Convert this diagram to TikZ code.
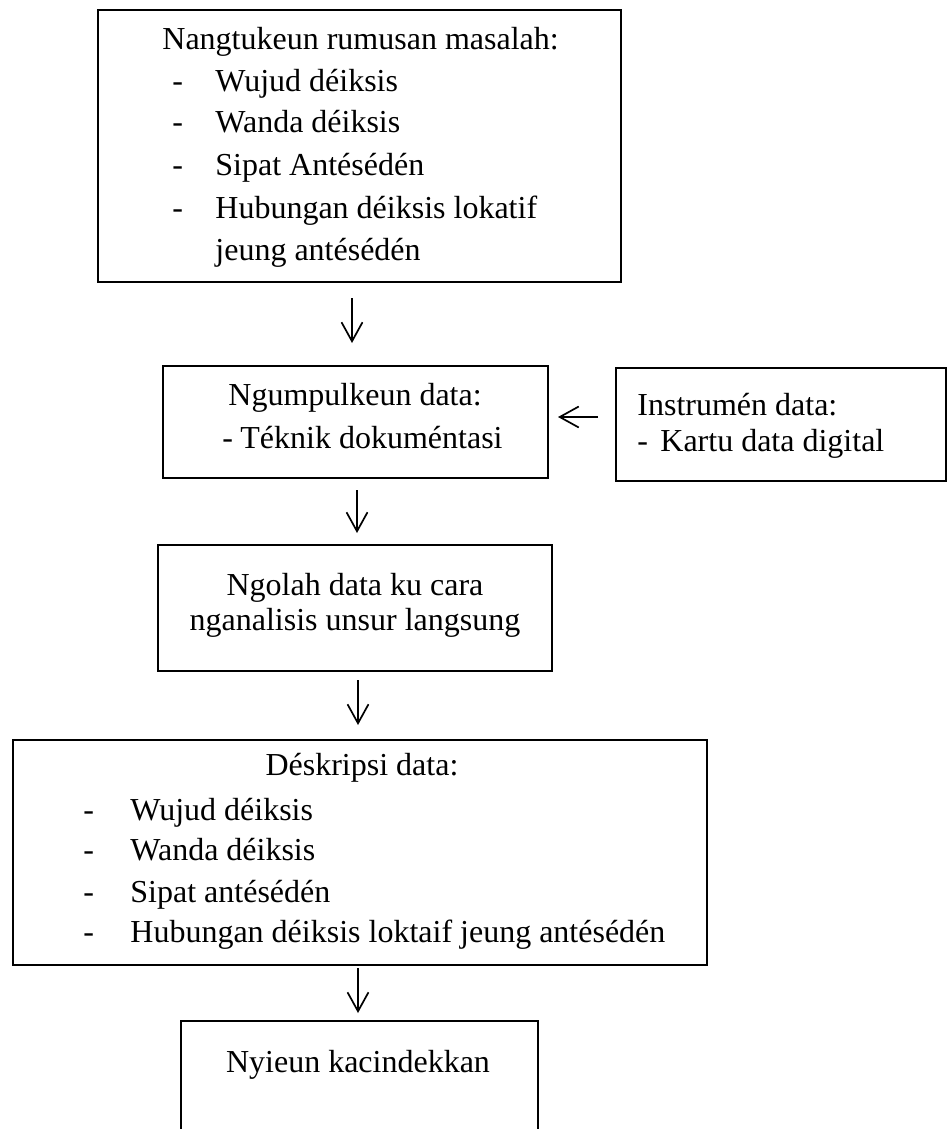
\documentclass[tikz,border=0pt]{standalone}
\usepackage{fontspec}
\setmainfont{Liberation Serif}
\usepackage{tikz}
\usetikzlibrary{arrows.meta,positioning,calc}

\begin{document}
\begin{tikzpicture}[x=0.5pt,y=-0.5pt,
    box/.style={draw, line width=0.7pt, inner sep=0pt, outer sep=0pt, anchor=north west},
    txt/.style={anchor=base west, inner sep=0pt, font=\fontsize{16}{20}\selectfont},
    ctr/.style={anchor=base, inner sep=0pt, font=\fontsize{16}{20}\selectfont},
    arr/.style={-{Straight Barb[length=9.5pt,width=10.5pt]}, line width=0.85pt}]
            \useasboundingbox (0,0) rectangle (949,1129);

            % rumusan masalah
            \node[box, minimum width=261.5pt, minimum height=136pt] (b1) at (98,10) {};
            \node[txt] (t1) at (162,50) {Nangtukeun rumusan masalah:};
            \node[txt] (d11) at (172,92) {-};
            \node[txt] (i11) at (215,92) {Wujud déiksis};
            \node[txt] (d12) at (172,133) {-};
            \node[txt] (i12) at (215,133) {Wanda déiksis};
            \node[txt] (d13) at (172,175) {-};
            \node[txt] (i13) at (215,175) {Sipat Antésédén};
            \node[txt] (d14) at (172,218) {-};
            \node[txt] (i14) at (215,218) {Hubungan déiksis lokatif};
            \node[txt] (i15) at (215,260) {jeung antésédén};

            % ngumpulkeun data
            \node[box, minimum width=192.5pt, minimum height=56pt] (b2) at (163,366) {};
            \node[txt] (t2) at (228,405) {Ngumpulkeun data:};
            \node[txt] (d21) at (222,448) {-};
            \node[txt] (i21) at (240,448) {Téknik dokuméntasi};

            % instrumen
            \node[box, minimum width=165pt, minimum height=56.5pt] (b3) at (616,368) {};
            \node[txt] (t3) at (637,415) {Instrumén data:};
            \node[txt] (d31) at (637,451) {-};
            \node[txt] (i31) at (660,451) {Kartu data digital};

            % ngolah data
            \node[box, minimum width=197pt, minimum height=63pt] (b4) at (158,545) {};
            \node[ctr] (t4) at (355,595) {Ngolah data ku cara};
            \node[ctr] (t4b) at (355,630) {nganalisis unsur langsung};

            % deskripsi data
            \node[box, minimum width=347pt, minimum height=112.5pt] (b5) at (13,740) {};
            \node[ctr] (t5) at (362,775) {Déskripsi data:};
            \node[txt] (d51) at (83,820) {-};
            \node[txt] (i51) at (130,820) {Wujud déiksis};
            \node[txt] (d52) at (83,860) {-};
            \node[txt] (i52) at (130,860) {Wanda déiksis};
            \node[txt] (d53) at (83,902) {-};
            \node[txt] (i53) at (130,902) {Sipat antésédén};
            \node[txt] (d54) at (83,942) {-};
            \node[txt] (i54) at (130,942) {Hubungan déiksis loktaif jeung antésédén};

            % kacindekkan
            \node[box, minimum width=178.5pt, minimum height=65pt] (b6) at (181,1021) {};
            \node[ctr] (t6) at (358,1072) {Nyieun kacindekkan};

            % panah
            \coordinate (a1) at (352,298);
            \coordinate (a2) at (357,490);
            \coordinate (a3) at (358,680);
            \coordinate (a4) at (358,968);
            \coordinate (a5) at (598,417);
            \draw[arr, shorten >=11.5pt] (a1) -- (a1 |- b2.north);
            \draw[arr, shorten >=6pt] (a2) -- (a2 |- b4.north);
            \draw[arr, shorten >=7.5pt] (a3) -- (a3 |- b5.north);
            \draw[arr, shorten >=4pt] (a4) -- (a4 |- b6.north);
            \draw[arr, shorten >=5pt] (a5) -- (a5 -| b2.east);
        \end{tikzpicture}
\end{document}
